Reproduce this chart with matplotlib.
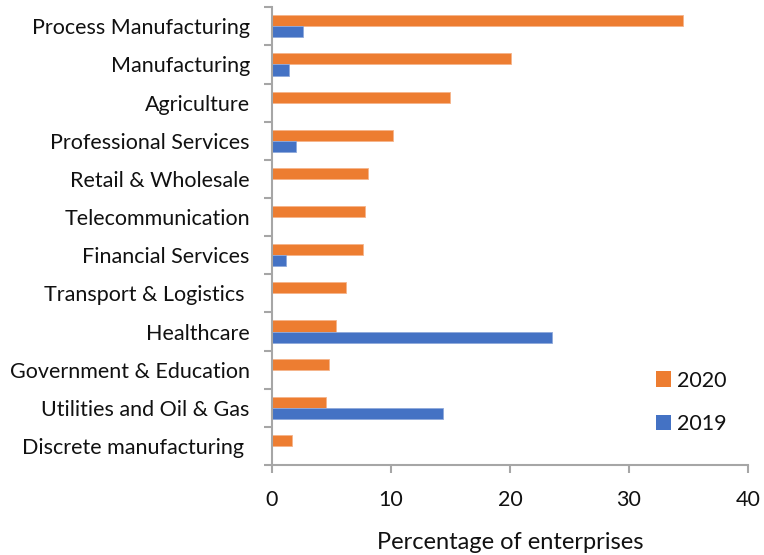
import matplotlib
matplotlib.use("Agg")
import matplotlib.pyplot as plt
from matplotlib.patches import Patch
import numpy as np

plt.rcParams['font.family'] = ['Lato', 'DejaVu Sans']

categories = [
    "Process Manufacturing",
    "Manufacturing",
    "Agriculture",
    "Professional Services",
    "Retail & Wholesale",
    "Telecommunication",
    "Financial Services",
    "Transport & Logistics ",
    "Healthcare",
    "Government & Education",
    "Utilities and Oil & Gas",
    "Discrete manufacturing ",
]
values_2020 = [34.5, 20.1, 15.0, 10.2, 8.1, 7.8, 7.65, 6.2, 5.4, 4.8, 4.55, 1.7]
values_2019 = [2.6, 1.4, 0, 2.0, 0, 0, 1.15, 0, 23.55, 0, 14.35, 0]
x_ticks = [0, 10, 20, 30, 40]

c2020 = "#ED7D31"
c2019 = "#4472C4"
grey = "#A6A6A6"
ink = "#111111"

fig = plt.figure(figsize=(7.64, 5.55), dpi=100)
ax = fig.add_axes([0.356, 0.162, 0.623, 0.825])

y = np.arange(len(categories))
h = 0.29
ax.barh(y - h / 2, values_2020, height=h, color=c2020, edgecolor="#F6B48A", linewidth=0.6)
ax.barh(y + h / 2, values_2019, height=h, color=c2019, edgecolor="#8FA9DB", linewidth=0.6)

ax.set_ylim(len(categories) - 0.5, -0.5)
ax.set_xlim(0, 40)
ax.set_xticks(x_ticks)
ax.set_xticklabels([str(t) for t in x_ticks])

ax.set_yticks(y)
ax.set_yticklabels(categories)
ax.set_yticks(np.arange(-0.5, len(categories), 1.0), minor=True)
ax.tick_params(axis="y", which="major", length=0, labelsize=15.5, pad=16, colors=ink)
ax.tick_params(axis="y", which="minor", length=6, width=1.5, color=grey)
ax.tick_params(axis="x", which="major", length=6, width=1.5, color=grey, labelsize=15.5, pad=12,
               labelcolor=ink)

for s in ["top", "right"]:
    ax.spines[s].set_visible(False)
for s in ["left", "bottom"]:
    ax.spines[s].set_color(grey)
    ax.spines[s].set_linewidth(1.5)

ax.set_xlabel("Percentage of enterprises", fontsize=17, labelpad=16, color=ink)

handles = [Patch(facecolor=c2020, edgecolor="none"), Patch(facecolor=c2019, edgecolor="none")]
ax.legend(handles, ["2020", "2019"], loc="center left", bbox_to_anchor=(0.767, 0.137),
          frameon=False, fontsize=15.5, handlelength=0.7, handleheight=0.7,
          handletextpad=0.25, labelspacing=1.1, labelcolor=ink)

fig.savefig("out.png", dpi=100)
